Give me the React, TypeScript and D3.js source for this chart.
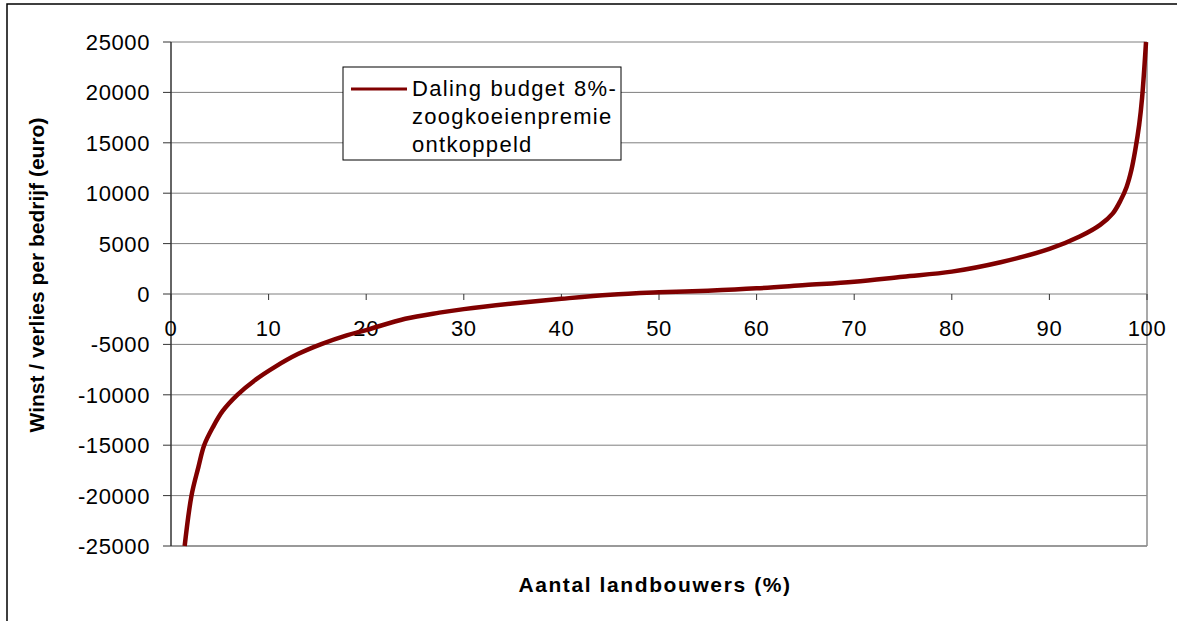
import React from 'react';
import * as d3 from 'd3';

// percentage of farmers (sorted) and gain/loss per farm in euro
const pct = [1.4, 2.1, 2.8, 3.4, 4.3, 5.3, 6.8, 8.6, 10.7, 13.0, 15.4, 18, 20, 24, 27.5, 30, 35, 40, 45, 50, 55, 60, 65, 70, 75, 80, 85, 90, 93.1, 95.2, 96.5, 97.3, 97.9, 98.4, 98.8, 99.2, 99.5, 99.9];
const values = [-25000, -20000, -17200, -15000, -13200, -11600, -10000, -8550, -7200, -5960, -4970, -4100, -3580, -2450, -1850, -1500, -950, -480, -70, 165, 330, 560, 890, 1220, 1720, 2220, 3150, 4470, 5700, 6860, 8000, 9300, 10600, 12300, 14300, 16800, 19500, 25000];
const xTicks = [0, 10, 20, 30, 40, 50, 60, 70, 80, 90, 100];
const yTicks = [-25000, -20000, -15000, -10000, -5000, 0, 5000, 10000, 15000, 20000, 25000];
const legendLines = ['Daling budget 8%-', 'zoogkoeienpremie', 'ontkoppeld'];

const W = 1177;
const H = 621;
const font = '"Liberation Sans", Arial, sans-serif';

export default function App() {
  const x = d3.scaleLinear().domain([0, 100]).range([171, 1147]);
  const y = d3.scaleLinear().domain([-25000, 25000]).range([546, 42]);

  const pts = pct.map((p, i) => [p, values[i]] as [number, number]);
  const line = d3
    .line<[number, number]>()
    .x(d => x(d[0]))
    .y(d => y(d[1]))
    .curve(d3.curveCatmullRom.alpha(0.5));

  return (
    <svg width={W} height={H} style={{ position: 'absolute', left: 0, top: 0, background: '#fff' }} fontFamily={font}>
      {/* outer frame */}
      <rect x={7} y={4} width={W} height={H} fill="#fff" stroke="#000" strokeWidth={1.5} />

      {/* gridlines */}
      {yTicks.map(t => (
        <line key={'g' + t} x1={x(0)} x2={x(100)} y1={y(t)} y2={y(t)} stroke="#7f7f7f" strokeWidth={1} />
      ))}
      {/* plot border right / bottom */}
      <line x1={x(100)} x2={x(100)} y1={y(25000)} y2={y(-25000)} stroke="#8c8c8c" strokeWidth={1.5} />
      <line x1={x(0)} x2={x(100)} y1={y(-25000)} y2={y(-25000)} stroke="#8c8c8c" strokeWidth={1.5} />

      {/* y axis */}
      <line x1={x(0)} x2={x(0)} y1={y(25000)} y2={y(-25000)} stroke="#333" strokeWidth={1.5} />
      {yTicks.map(t => (
        <g key={'y' + t}>
          <line x1={163} x2={x(0)} y1={y(t)} y2={y(t)} stroke="#333" strokeWidth={1} />
          <text x={150} y={y(t) + 8} textAnchor="end" fontSize={22} letterSpacing={0.6} fill="#000">
            {t}
          </text>
        </g>
      ))}

      {/* x axis on zero line */}
      {xTicks.map(t => (
        <g key={'x' + t}>
          <line x1={x(t)} x2={x(t)} y1={y(0)} y2={y(0) + 6} stroke="#333" strokeWidth={1} />
          <text x={x(t)} y={336} textAnchor="middle" fontSize={22} letterSpacing={0.6} fill="#000">
            {t}
          </text>
        </g>
      ))}

      {/* data line */}
      <path d={line(pts) || ''} fill="none" stroke="#800000" strokeWidth={4.5} />

      {/* legend */}
      <rect x={343} y={67} width={278} height={93} fill="#fff" stroke="#000" strokeWidth={1} />
      <line x1={351} x2={407} y1={89} y2={89} stroke="#800000" strokeWidth={3} />
      {legendLines.map((s, i) => (
        <text key={s} x={412} y={96 + i * 28} fontSize={22} letterSpacing={1.3} wordSpacing={1} fill="#000">
          {s}
        </text>
      ))}

      {/* axis titles */}
      <text x={655} y={592} textAnchor="middle" fontSize={21} fontWeight="bold" letterSpacing={1.6} fill="#000">
        Aantal landbouwers (%)
      </text>
      <text
        transform="translate(44,275) rotate(-90)"
        textAnchor="middle"
        fontSize={21}
        fontWeight="bold"
        fill="#000"
      >
        Winst / verlies per bedrijf (euro)
      </text>
    </svg>
  );
}
